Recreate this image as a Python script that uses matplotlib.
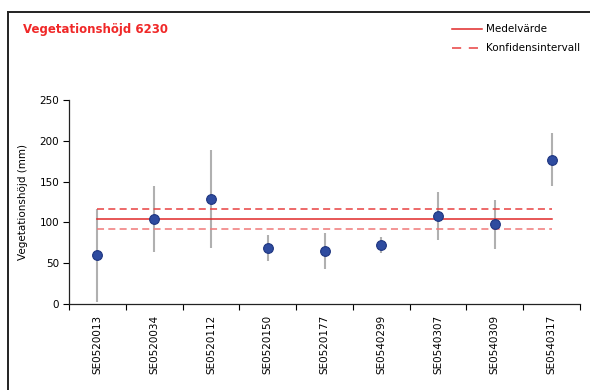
import matplotlib
matplotlib.use("Agg")
import matplotlib.pyplot as plt
from matplotlib.lines import Line2D

sites = ["SE0520013", "SE0520034", "SE0520112", "SE0520150", "SE0520177",
         "SE0540299", "SE0540307", "SE0540309", "SE0540317"]
values = [60, 104, 129, 69, 65, 72, 108, 98, 177]
errors = [57, 40, 60, 16, 22, 10, 29, 30, 32]
mean_value = 104
ci_upper = 116.5
ci_lower = 92.5
yticks = [0, 50, 100, 150, 200, 250]

fig = plt.figure(figsize=(5.9, 3.9), dpi=100)
fig.patch.set_facecolor("white")

# outer frame
fig.add_artist(Line2D([8/590, 8/590], [0, 1 - 12/390], transform=fig.transFigure, color="#222222", lw=1.4))
fig.add_artist(Line2D([8/590, 1], [1 - 12/390, 1 - 12/390], transform=fig.transFigure, color="#222222", lw=1.4))

ax = fig.add_axes([69/590, 1 - 304/390, (580 - 69)/590, (304 - 100)/390])
x = [i + 0.5 for i in range(len(sites))]

ax.errorbar(x, values, yerr=errors, fmt="none", ecolor="#B0B0B0", elinewidth=1.5, capsize=0, zorder=2)
ax.plot(x, values, "o", ms=7, mfc="#2E4B9F", mec="#1E3580", mew=0.8, zorder=4, linestyle="none")

dash = (4.6, 2.8)
ax.plot([x[0], x[-1]], [mean_value, mean_value], color="#E02828", lw=1.1, zorder=3)
ax.plot([x[0], x[-1]], [ci_upper, ci_upper], color="#E84040", lw=1.1, dashes=dash, zorder=3)
ax.plot([x[0], x[-1]], [ci_lower, ci_lower], color="#F07878", lw=1.1, dashes=dash, zorder=3)

ax.set_xlim(0, len(sites))
ax.set_ylim(0, 250)
ax.set_yticks(yticks)
ax.set_yticklabels([str(v) for v in yticks], fontsize=7.5)
ax.set_xticks(range(len(sites) + 1))
ax.set_xticklabels([])
ax.set_xticks(x, minor=True)
ax.set_xticklabels(sites, minor=True, rotation=90, fontsize=7.5)
ax.tick_params(axis="x", which="minor", length=0, pad=8)
ax.tick_params(axis="x", which="major", length=4, width=0.8, direction="out")
ax.tick_params(axis="y", length=4, width=0.8, direction="out", pad=3)
for s in ["top", "right"]:
    ax.spines[s].set_visible(False)
for s in ["left", "bottom"]:
    ax.spines[s].set_linewidth(0.9)
    ax.spines[s].set_color("#222222")

ax.set_ylabel("Vegetationshöjd (mm)", fontsize=7.5, labelpad=8)

fig.text(23/590, 1 - 30/390, "Vegetationshöjd 6230", color="#F02828", fontsize=8.5,
         fontweight="bold", va="center", ha="left")

# legend
fig.add_artist(Line2D([452/590, 482/590], [1 - 29/390, 1 - 29/390], transform=fig.transFigure,
                      color="#E02828", lw=1.1))
fig.add_artist(Line2D([452/590, 482/590], [1 - 48/390, 1 - 48/390], transform=fig.transFigure,
                      color="#E84040", lw=1.1, dashes=(6, 5)))
fig.text(486/590, 1 - 29/390, "Medelvärde", fontsize=7.5, va="center", ha="left")
fig.text(486/590, 1 - 48/390, "Konfidensintervall", fontsize=7.5, va="center", ha="left")

fig.savefig("out.png", dpi=100, facecolor="white")
